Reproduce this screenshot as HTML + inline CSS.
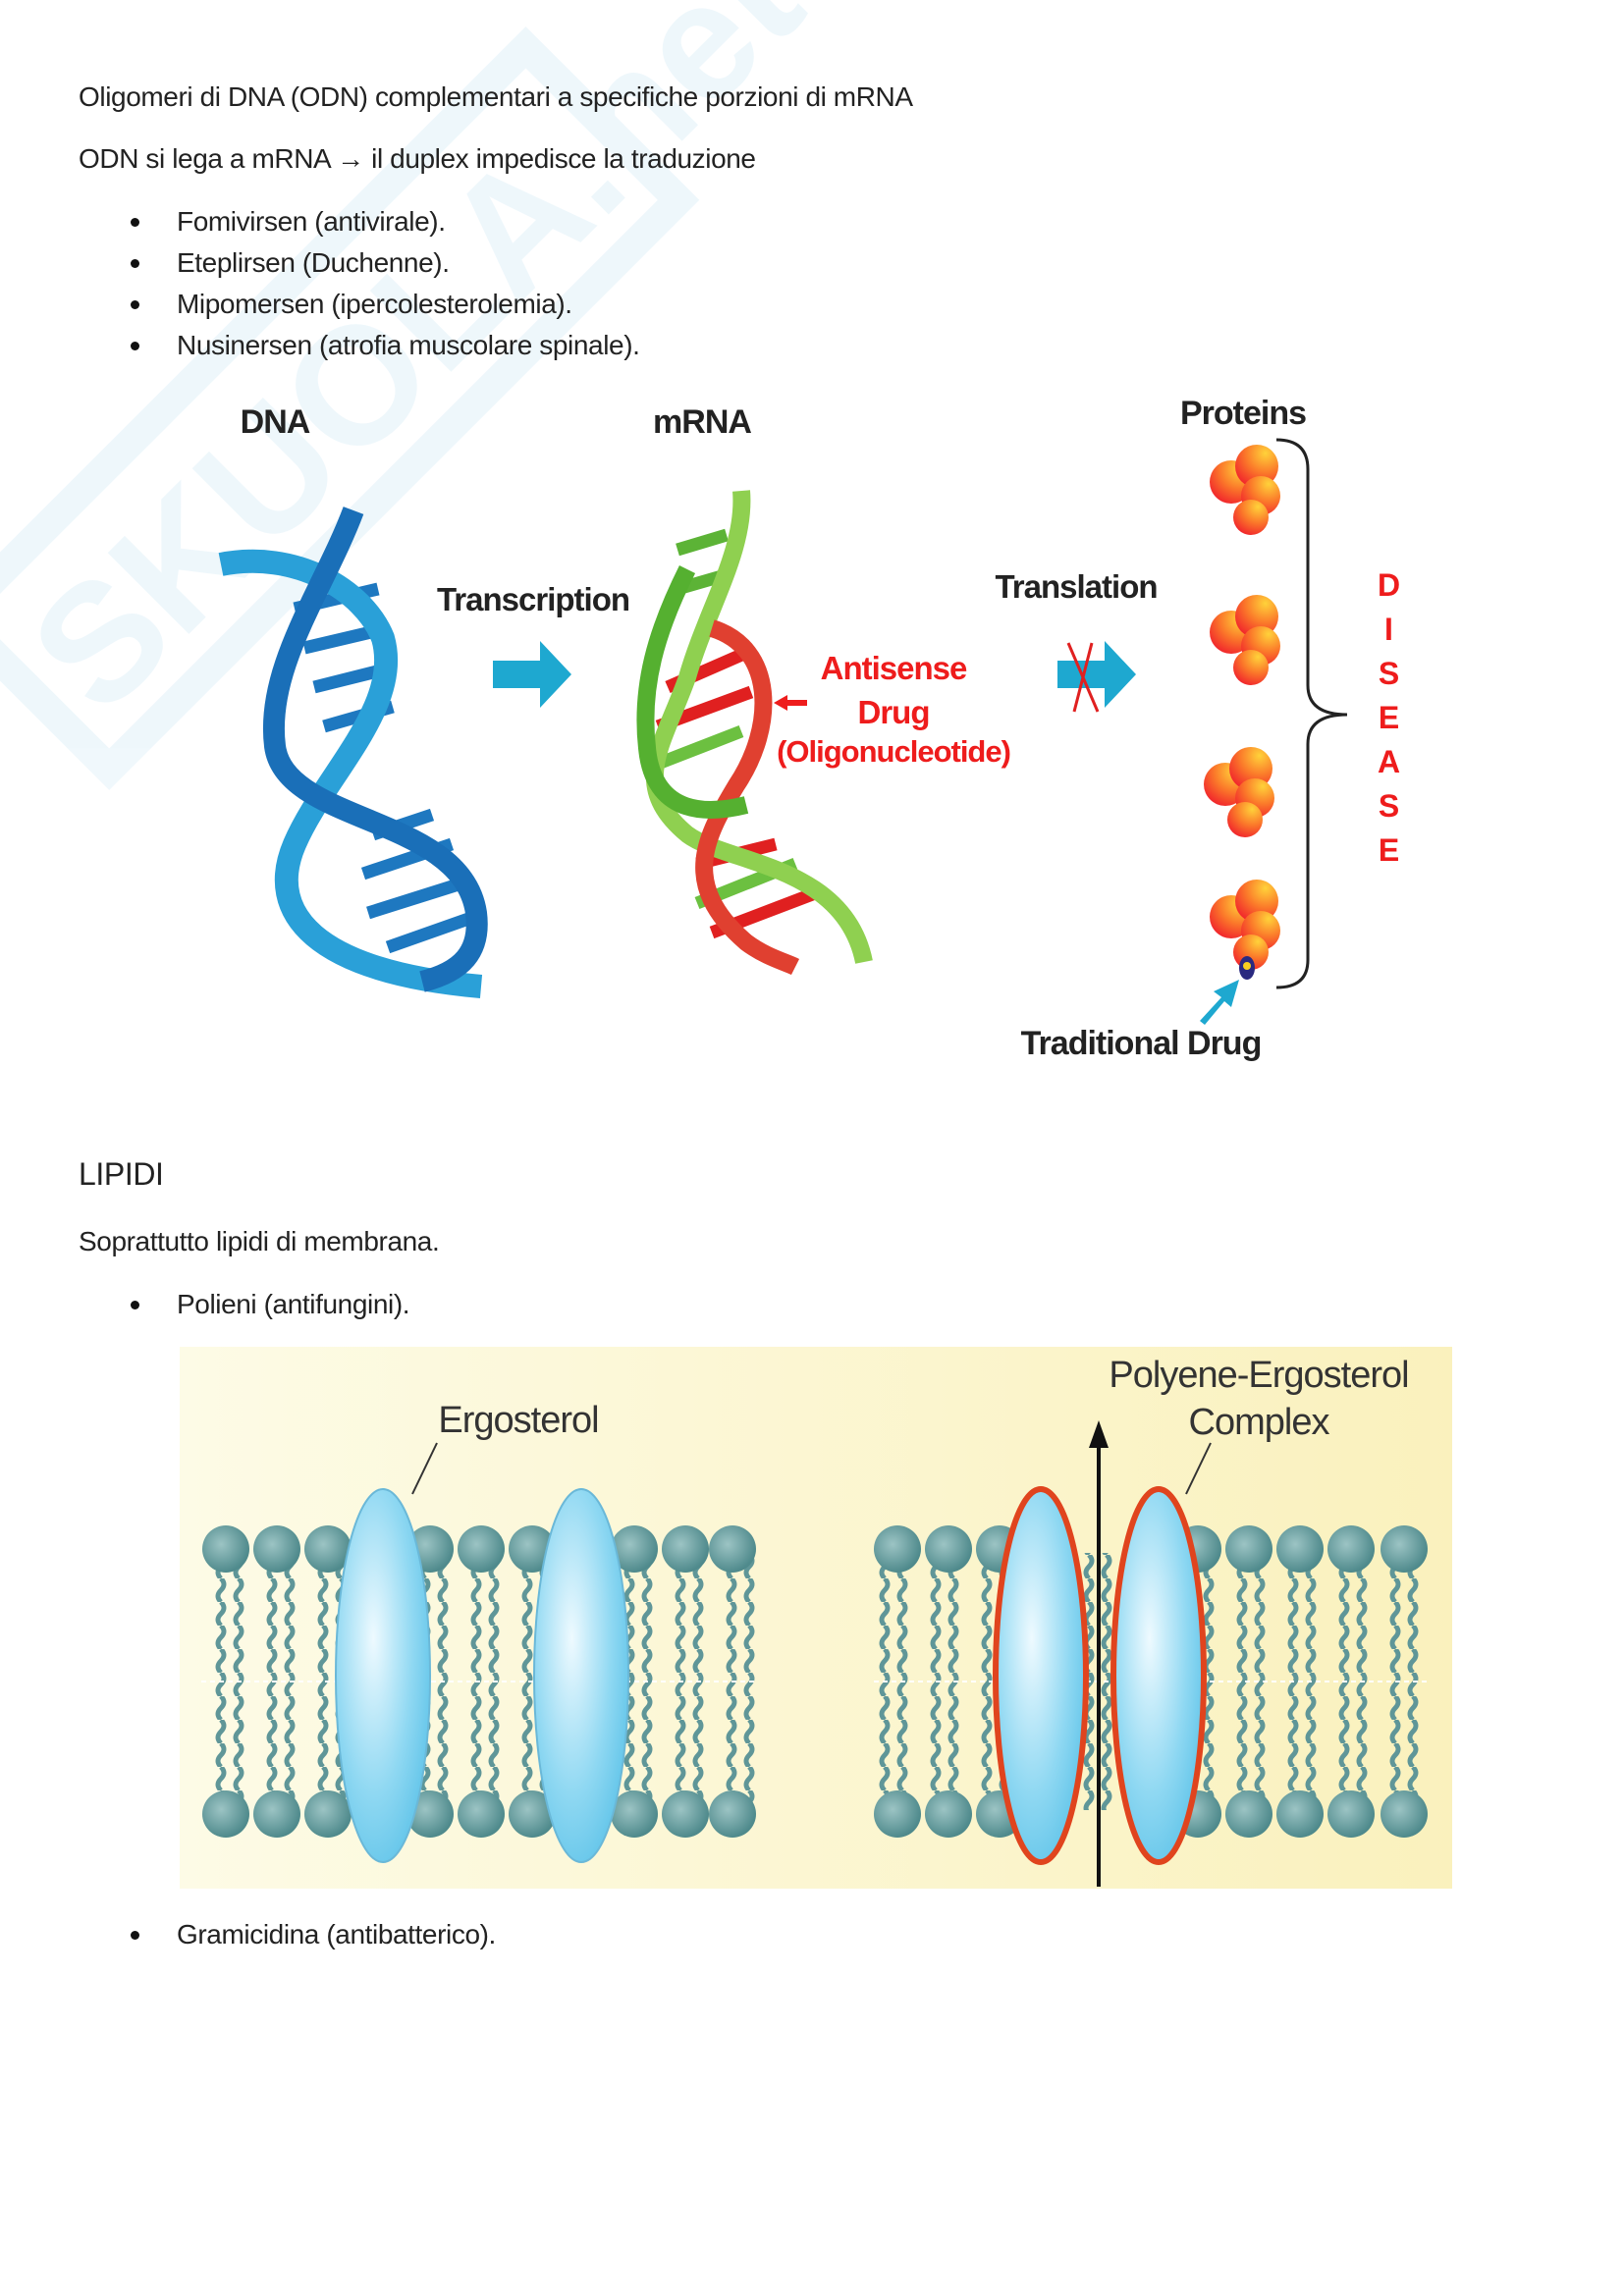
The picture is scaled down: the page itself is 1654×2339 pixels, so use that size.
<!DOCTYPE html>
<html><head><meta charset="utf-8"><style>
body{margin:0;width:1654px;height:2339px;background:#fff;position:relative;overflow:hidden;font-family:"Liberation Sans",sans-serif;}
.t{position:absolute;font-size:28px;color:#222;white-space:nowrap;letter-spacing:-0.4px;line-height:1;}
.b{position:absolute;width:9px;height:9px;border-radius:50%;background:#111;}
</style></head><body>
<svg width="1654" height="2339" style="position:absolute;left:0;top:0" xmlns="http://www.w3.org/2000/svg">
<g opacity="0.08" transform="rotate(-45 90 720)">
<rect x="60" y="560" width="820" height="220" fill="none" stroke="#3aa0d8" stroke-width="30"/>
<text x="90" y="740" font-size="170" font-weight="bold" fill="#3aa0d8">SKUOLA.net</text>
</g>
</svg>
<div class="t" style="left:80px;top:85px">Oligomeri di DNA (ODN) complementari a specifiche porzioni di mRNA</div>
<div class="t" style="left:80px;top:148px">ODN si lega a mRNA → il duplex impedisce la traduzione</div>
<div class="b" style="left:133px;top:222px"></div><div class="t" style="left:180px;top:212px">Fomivirsen (antivirale).</div>
<div class="b" style="left:133px;top:264px"></div><div class="t" style="left:180px;top:254px">Eteplirsen (Duchenne).</div>
<div class="b" style="left:133px;top:306px"></div><div class="t" style="left:180px;top:296px">Mipomersen (ipercolesterolemia).</div>
<div class="b" style="left:133px;top:348px"></div><div class="t" style="left:180px;top:338px">Nusinersen (atrofia muscolare spinale).</div>

<div class="t" style="left:80px;top:1180px;font-size:32px">LIPIDI</div>
<div class="t" style="left:80px;top:1251px">Soprattutto lipidi di membrana.</div>
<div class="b" style="left:133px;top:1325px"></div><div class="t" style="left:180px;top:1315px">Polieni (antifungini).</div>
<div class="b" style="left:133px;top:1967px"></div><div class="t" style="left:180px;top:1957px">Gramicidina (antibatterico).</div>

<svg width="1654" height="2339" style="position:absolute;left:0;top:0" xmlns="http://www.w3.org/2000/svg">
<defs>
<linearGradient id="bg" x1="0" x2="1" y1="0" y2="0"><stop offset="0" stop-color="#fdfbe6"/><stop offset="1" stop-color="#faf1bd"/></linearGradient>
<radialGradient id="head" cx="0.4" cy="0.4" r="0.6"><stop offset="0" stop-color="#9cc4c4"/><stop offset="1" stop-color="#4f8a8c"/></radialGradient>
<radialGradient id="ell" cx="0.4" cy="0.4" r="0.7"><stop offset="0" stop-color="#eefaff"/><stop offset="0.6" stop-color="#8fd8f2"/><stop offset="1" stop-color="#5cc2e8"/></radialGradient>
<radialGradient id="prot" cx="0.7" cy="0.2" r="0.9"><stop offset="0" stop-color="#ffd23a"/><stop offset="0.5" stop-color="#fb7a2a"/><stop offset="1" stop-color="#f01e2c"/></radialGradient>
<pattern id="tails" x="0" y="0" width="52" height="24" patternUnits="userSpaceOnUse">
<path d="M17,0 q6,6 0,12 q-6,6 0,12 M35,0 q6,6 0,12 q-6,6 0,12" stroke="#5f9698" stroke-width="5" fill="none"/>
</pattern>
<g id="protein"><circle cx="-14" cy="-6" r="22" fill="url(#prot)"/><circle cx="12" cy="-22" r="22" fill="url(#prot)"/><circle cx="16" cy="8" r="20" fill="url(#prot)"/><circle cx="6" cy="30" r="18" fill="url(#prot)"/></g>
</defs>

<g fill="none" stroke-linecap="butt">
<g stroke="#1e78c0" stroke-width="13">
<line x1="300" y1="620" x2="385" y2="600"/><line x1="310" y1="660" x2="395" y2="640"/><line x1="320" y1="700" x2="400" y2="680"/><line x1="330" y1="740" x2="400" y2="720"/>
<line x1="380" y1="850" x2="440" y2="830"/><line x1="370" y1="890" x2="460" y2="860"/><line x1="375" y1="930" x2="470" y2="900"/><line x1="395" y1="965" x2="480" y2="935"/>
</g>
<path d="M225,575 C300,560 370,600 390,650 C410,720 330,790 300,860 C270,930 320,990 490,1005" stroke="#2aa0d8" stroke-width="24"/>
<path d="M360,520 C330,600 270,680 280,760 C290,840 470,830 485,930 C490,970 470,990 430,1000" stroke="#1a6fb8" stroke-width="22"/>
</g>

<g fill="none">
<g stroke-width="13">
<line x1="690" y1="560" x2="740" y2="545" stroke="#5cb336"/><line x1="690" y1="600" x2="742" y2="585" stroke="#5cb336"/>
<line x1="680" y1="700" x2="760" y2="665" stroke="#e02020"/><line x1="670" y1="740" x2="765" y2="705" stroke="#e02020"/><line x1="665" y1="780" x2="755" y2="745" stroke="#6cc040"/>
<line x1="710" y1="880" x2="790" y2="860" stroke="#e02020"/><line x1="710" y1="920" x2="810" y2="880" stroke="#6cc040"/><line x1="725" y1="950" x2="830" y2="910" stroke="#e02020"/>
</g>
<path d="M755,500 C760,560 720,620 700,690 C675,760 640,800 700,850 C740,880 860,880 880,980" stroke="#8fd050" stroke-width="18"/>
<path d="M725,640 C790,660 790,740 750,800 C720,850 690,900 760,960 C780,975 800,980 810,985" stroke="#e04030" stroke-width="18"/>
<path d="M700,580 C670,640 650,700 660,770 C670,830 720,830 760,820" stroke="#55b030" stroke-width="18"/>
</g>

<g font-family="Liberation Sans, sans-serif" font-weight="bold" text-anchor="middle" letter-spacing="-1">
<text x="280" y="441" font-size="34" fill="#222">DNA</text>
<text x="715" y="441" font-size="34" fill="#222">mRNA</text>
<text x="1266" y="432" font-size="34" fill="#222">Proteins</text>
<text x="543" y="622" font-size="33" fill="#222">Transcription</text>
<text x="1096" y="609" font-size="33" fill="#222">Translation</text>
<text x="910" y="692" font-size="33" fill="#ee1c1c">Antisense</text>
<text x="910" y="737" font-size="33" fill="#ee1c1c">Drug</text>
<text x="910" y="776" font-size="31" fill="#ee1c1c">(Oligonucleotide)</text>
<text x="1162" y="1074" font-size="34" fill="#222">Traditional Drug</text>
<g font-size="32" fill="#ee1c1c"><text x="1414" y="607">D</text><text x="1414" y="652">I</text><text x="1414" y="697">S</text><text x="1414" y="742">E</text><text x="1414" y="787">A</text><text x="1414" y="832">S</text><text x="1414" y="877">E</text></g>
</g>
<path d="M502,673 h48 v-20 l32,34 l-32,34 v-20 h-48z" fill="#1ea8d0"/>
<path d="M1077,673 h48 v-20 l32,34 l-32,34 v-20 h-48z" fill="#1ea8d0"/>
<path d="M1088,655 L1118,725 M1112,655 L1094,725" stroke="#e02020" stroke-width="3"/>
<path d="M788,716 l14,-8 v5 h20 v6 h-20 v5z" fill="#ee1c1c"/>
<path d="M1222,1040 l22,-24 l-8,-6 l26,-12 l-8,28 l-7,-6 l-20,24z" fill="#1ea8d0"/>
<use href="#protein" x="1268" y="497"/><use href="#protein" x="1268" y="650"/><use href="#protein" x="1262" y="805"/><use href="#protein" x="1268" y="940"/>
<ellipse cx="1270" cy="986" rx="8" ry="12" fill="#2a2a80"/><circle cx="1270" cy="984" r="4" fill="#f8d020"/>
<path d="M1300,448 q32,0 32,30 v220 q0,30 40,30 q-40,0 -40,30 v220 q0,28 -32,28" fill="none" stroke="#222" stroke-width="3"/>

<rect x="183" y="1372" width="1296" height="552" fill="url(#bg)"/>
<rect x="205" y="1582" width="565" height="262" fill="url(#tails)"/>
<rect x="890" y="1582" width="565" height="262" fill="url(#tails)"/>
<line x1="205" y1="1713" x2="770" y2="1713" stroke="#fff" stroke-width="2" stroke-dasharray="5 4"/>
<line x1="890" y1="1713" x2="1455" y2="1713" stroke="#fff" stroke-width="2" stroke-dasharray="5 4"/>
<g fill="url(#head)">
<circle cx="230" cy="1578" r="24"/><circle cx="282" cy="1578" r="24"/><circle cx="334" cy="1578" r="24"/><circle cx="386" cy="1578" r="24"/><circle cx="438" cy="1578" r="24"/><circle cx="490" cy="1578" r="24"/><circle cx="542" cy="1578" r="24"/><circle cx="594" cy="1578" r="24"/><circle cx="646" cy="1578" r="24"/><circle cx="698" cy="1578" r="24"/><circle cx="746" cy="1578" r="24"/>
<circle cx="230" cy="1848" r="24"/><circle cx="282" cy="1848" r="24"/><circle cx="334" cy="1848" r="24"/><circle cx="386" cy="1848" r="24"/><circle cx="438" cy="1848" r="24"/><circle cx="490" cy="1848" r="24"/><circle cx="542" cy="1848" r="24"/><circle cx="594" cy="1848" r="24"/><circle cx="646" cy="1848" r="24"/><circle cx="698" cy="1848" r="24"/><circle cx="746" cy="1848" r="24"/>
<circle cx="914" cy="1578" r="24"/><circle cx="966" cy="1578" r="24"/><circle cx="1018" cy="1578" r="24"/><circle cx="1220" cy="1578" r="24"/><circle cx="1272" cy="1578" r="24"/><circle cx="1324" cy="1578" r="24"/><circle cx="1376" cy="1578" r="24"/><circle cx="1430" cy="1578" r="24"/>
<circle cx="914" cy="1848" r="24"/><circle cx="966" cy="1848" r="24"/><circle cx="1018" cy="1848" r="24"/><circle cx="1220" cy="1848" r="24"/><circle cx="1272" cy="1848" r="24"/><circle cx="1324" cy="1848" r="24"/><circle cx="1376" cy="1848" r="24"/><circle cx="1430" cy="1848" r="24"/>
</g>
<ellipse cx="390" cy="1707" rx="48" ry="190" fill="url(#ell)" stroke="#6ab8d8" stroke-width="2"/>
<ellipse cx="592" cy="1707" rx="48" ry="190" fill="url(#ell)" stroke="#6ab8d8" stroke-width="2"/>
<ellipse cx="1060" cy="1707" rx="46" ry="190" fill="url(#ell)" stroke="#e0441e" stroke-width="6"/>
<ellipse cx="1180" cy="1707" rx="46" ry="190" fill="url(#ell)" stroke="#e0441e" stroke-width="6"/>
<line x1="1119" y1="1922" x2="1119" y2="1470" stroke="#111" stroke-width="4"/>
<path d="M1109,1475 l10,-28 l10,28z" fill="#111"/>
<line x1="445" y1="1470" x2="420" y2="1522" stroke="#333" stroke-width="2"/>
<line x1="1233" y1="1470" x2="1208" y2="1522" stroke="#333" stroke-width="2"/>
<g font-family="Liberation Sans, sans-serif" font-size="38" fill="#333" text-anchor="middle" letter-spacing="-1">
<text x="528" y="1459">Ergosterol</text>
<text x="1282" y="1413">Polyene-Ergosterol</text>
<text x="1282" y="1461">Complex</text>
</g>
</svg>
</body></html>
